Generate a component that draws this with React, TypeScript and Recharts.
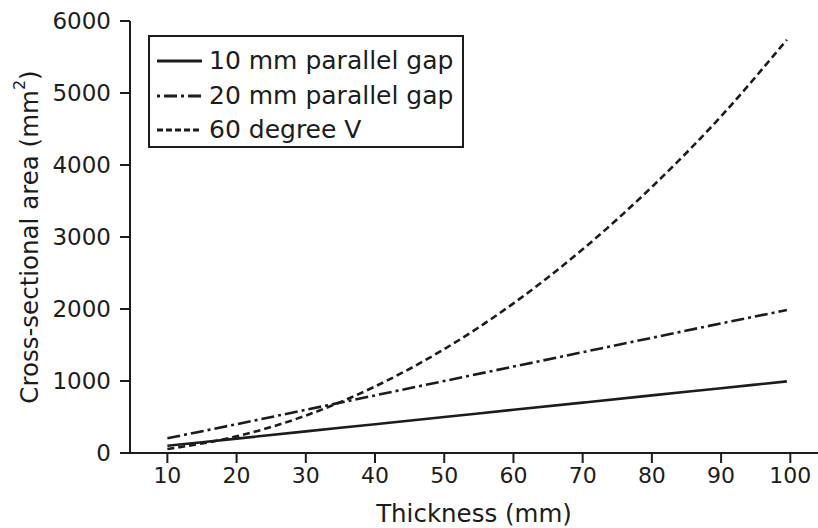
import React from 'react';
import { LineChart, Line, XAxis, YAxis } from 'recharts';

// thickness (mm)
const thickness = [10, 20, 30, 40, 50, 60, 70, 80, 90, 99.5];
// cross-sectional area (mm²) for each joint type
const gap10 = [100, 200, 300, 400, 500, 600, 700, 800, 900, 995];
const gap20 = [205, 400, 600, 800, 1000, 1200, 1400, 1600, 1800, 1985];
const vee60 = [55, 231, 520, 924, 1443, 2078, 2829, 3695, 4677, 5740];

const xTicks = [10, 20, 30, 40, 50, 60, 70, 80, 90, 100];
const yTicks = [0, 1000, 2000, 3000, 4000, 5000, 6000];

const data = thickness.map((t, i) => ({
  t,
  gap10: gap10[i],
  gap20: gap20[i],
  vee60: vee60[i],
}));

const INK = '#1c1c1c';
const FONT = '"DejaVu Sans", Verdana, sans-serif';

const series = [
  { key: 'gap10', name: '10 mm parallel gap', dash: undefined, legendDash: undefined },
  { key: 'gap20', name: '20 mm parallel gap', dash: '13 4 3 4', legendDash: '3 4 13 4' },
  { key: 'vee60', name: '60 degree V', dash: '7 4', legendDash: '6 3' },
];

const LegendBox = () => (
  <div
    style={{
      position: 'absolute',
      left: 148,
      top: 35,
      width: 316,
      height: 113,
      boxSizing: 'border-box',
      border: `2px solid ${INK}`,
      paddingTop: 7,
      paddingLeft: 7,
      fontFamily: FONT,
      fontSize: 25,
      color: INK,
      background: '#fff',
      lineHeight: '34.5px',
    }}
  >
    {series.map(s => (
      <div key={s.key} style={{ display: 'flex', alignItems: 'center', whiteSpace: 'nowrap' }}>
        <svg width={45} height={10} style={{ marginRight: 7, flex: 'none' }}>
          <line x1={0} y1={5} x2={45} y2={5} stroke={INK} strokeWidth={3} strokeDasharray={s.legendDash} />
        </svg>
        <span>{s.name}</span>
      </div>
    ))}
  </div>
);

const YTitle = (props: any) => {
  const vb = props.viewBox || {};
  const cx = 29;
  const cy = vb.y + vb.height / 2;
  return (
    <text
      x={cx}
      y={cy}
      transform={`rotate(-90, ${cx}, ${cy})`}
      textAnchor="middle"
      dominantBaseline="central"
      fontFamily={FONT}
      fontSize={24.5}
      fill={INK}
    >
      Cross-sectional area (mm
      <tspan baselineShift="super" fontSize={16}>2</tspan>
      <tspan>)</tspan>
    </text>
  );
};

const XTitle = (props: any) => {
  const vb = props.viewBox || {};
  return (
    <text
      x={vb.x + vb.width / 2}
      y={522}
      textAnchor="middle"
      fontFamily={FONT}
      fontSize={24.5}
      fill={INK}
    >
      Thickness (mm)
    </text>
  );
};

export default function App() {
  return (
    <div style={{ position: 'absolute', left: 0, top: 0, width: 818, height: 528, background: '#fff' }}>
      <LineChart width={818} height={528} data={data} margin={{ top: 21, right: 0, bottom: 0, left: 0 }}>
        <XAxis
          dataKey="t"
          type="number"
          domain={[4.6, 104]}
          ticks={xTicks}
          allowDataOverflow
          height={75}
          stroke={INK}
          strokeWidth={2}
          tickSize={10}
          tickMargin={4}
          tick={{ fill: INK, fontSize: 22, fontFamily: FONT }}
          label={<XTitle />}
        />
        <YAxis
          type="number"
          domain={[0, 6000]}
          ticks={yTicks}
          width={130}
          stroke={INK}
          strokeWidth={2}
          tickSize={10}
          tickMargin={9}
          tick={{ fill: INK, fontSize: 23, fontFamily: FONT }}
          label={<YTitle />}
        />
        {series.map(s => (
          <Line
            key={s.key}
            dataKey={s.key}
            name={s.name}
            type="monotone"
            stroke={INK}
            strokeWidth={2.6}
            strokeDasharray={s.dash}
            dot={false}
            activeDot={false}
            isAnimationActive={false}
          />
        ))}
      </LineChart>
      <LegendBox />
    </div>
  );
}
